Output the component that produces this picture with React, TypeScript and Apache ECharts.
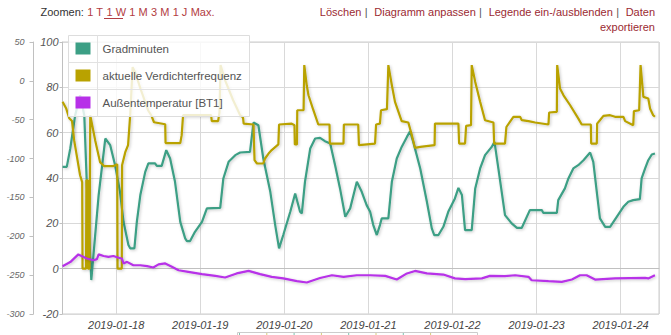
import React, { useEffect, useRef } from "react";
import * as echarts from "echarts";

// Series names and colours
const seriesNames = ["Gradminuten", "aktuelle Verdichterfrequenz", "Außentemperatur [BT1]"];
const seriesColors = ["#3c9f85", "#b9a200", "#b730e8"];

// Time axis range (hours after 2019-01-17 00:00)
const xStartHour = 8.68;
const xEndHour = 178.96;

// Y axis tick settings
const innerAxis = { min: -20, max: 100, interval: 20 };
const outerAxis = { min: -300, max: 50, interval: 50 };

// [hours after 2019-01-17 00:00, value]
const gradminuten: [number, number][] = [
  [8.7, -110.7], [9.9, -110.7], [10.9, -87.0], [12.3, -44.2], [13.7, -18.5], [14.9, -44.2], [15.6, -129.9], [16.9, -256.3],
  [19.0, -147.0], [20.9, -74.2], [22.3, -82.8], [23.7, -108.5], [25.1, -142.8], [26.1, -181.4], [27.5, -211.3], [28.0, -215.5],
  [29.2, -215.5], [29.9, -181.4], [30.9, -147.0], [32.3, -117.1], [33.2, -106.3], [35.1, -106.3], [35.6, -109.4], [37.0, -109.4],
  [38.3, -89.2], [39.4, -99.9], [40.8, -129.9], [42.3, -181.4], [43.7, -202.7], [44.2, -206.2], [45.1, -206.2], [46.5, -194.2],
  [48.5, -181.4], [49.9, -164.1], [53.7, -163.4], [54.6, -125.6], [56.1, -104.2], [58.0, -95.6], [59.4, -92.2], [62.2, -91.4],
  [63.2, -53.6], [64.6, -57.1], [66.0, -99.9], [68.0, -142.8], [69.4, -185.6], [70.5, -215.5], [71.7, -198.4], [73.7, -168.5],
  [75.1, -144.9], [76.5, -168.5], [77.0, -170.6], [77.9, -129.9], [79.4, -87.0], [80.8, -74.2], [82.2, -73.4], [83.6, -77.6],
  [85.1, -80.6], [86.5, -108.5], [87.9, -138.4], [89.4, -174.9], [90.8, -164.1], [92.7, -129.9], [94.1, -142.8], [95.5, -159.9],
  [96.5, -168.5], [97.4, -185.6], [98.4, -198.4], [99.3, -185.6], [99.8, -177.0], [101.7, -177.0], [102.7, -129.9], [104.1, -99.9],
  [105.5, -85.0], [107.0, -72.1], [107.9, -64.8], [108.8, -78.5], [110.8, -112.7], [112.7, -155.6], [114.1, -189.8], [114.8, -198.4],
  [116.0, -198.4], [117.4, -187.8], [118.8, -168.5], [120.7, -151.3], [121.7, -137.7], [122.7, -147.0], [123.6, -192.0], [125.5, -192.0],
  [126.5, -138.4], [127.9, -112.7], [129.3, -95.6], [131.2, -85.0], [132.0, -78.5], [133.1, -112.7], [135.0, -172.7], [136.9, -183.4],
  [138.4, -189.1], [139.8, -189.1], [142.1, -166.3], [145.5, -166.3], [145.9, -169.8], [149.8, -169.8], [150.2, -153.5], [152.1, -138.4],
  [153.1, -125.6], [154.5, -112.7], [155.9, -108.5], [157.4, -102.1], [159.3, -92.2], [160.2, -104.2], [161.2, -142.8], [162.1, -177.0],
  [163.6, -187.8], [165.0, -187.8], [166.9, -174.9], [168.8, -162.1], [170.2, -155.6], [171.6, -153.5], [173.5, -152.2], [174.0, -125.6],
  [175.0, -112.7], [175.9, -102.1], [176.9, -94.7], [177.8, -93.4],
];

const verdichterfrequenz: [number, number][] = [
  [8.7, 73.6], [9.7, 70.8], [10.6, 66.4], [11.4, 65.1], [12.0, 56.7], [13.7, 41.2], [14.3, 38.2], [14.4, 0], [15.4, 0], [15.5, 39],
  [15.9, 39], [16.0, 0], [16.4, 0], [16.6, 67.7], [18.0, 56.7], [19.4, 47.0], [20.6, 45.2], [23.1, 45.2], [24.3, 46.1], [24.4, 0],
  [25.6, 0], [25.7, 45.7], [26.6, 51.4], [27.4, 54.5], [28.0, 67.7], [28.7, 88.9], [29.4, 86.7], [30.9, 79.6], [33.1, 69.9], [34.0, 67.7],
  [34.8, 64.6], [38.0, 63.7], [38.1, 55.4], [42.3, 55.4], [42.7, 58.9], [43.1, 67.7], [51.1, 67.7], [51.3, 65.1], [53.1, 65.1], [53.5, 69.0],
  [53.8, 89.8], [55.1, 83.1], [57.4, 74.3], [59.4, 67.7], [60.2, 66.8], [60.4, 64.0], [63.2, 63.6], [63.5, 47.9], [64.2, 46.4], [66.0, 46.4],
  [66.5, 48.6], [67.5, 50.8], [68.4, 52.3], [70.3, 54.8], [70.5, 63.6], [74.1, 64.0], [74.9, 63.3], [75.0, 54.8], [75.6, 54.8], [75.7, 69.9],
  [77.5, 69.9], [77.7, 89.8], [78.4, 80.9], [78.9, 76.5], [80.3, 69.9], [81.7, 63.6], [84.9, 63.6], [85.0, 55.2], [88.9, 55.2], [89.0, 63.6],
  [93.1, 63.6], [93.3, 54.5], [97.9, 55.2], [98.2, 63.6], [99.3, 64.0], [99.6, 69.9], [101.3, 70.4], [101.7, 89.8], [102.7, 80.9], [103.6, 73.6],
  [105.5, 65.1], [107.4, 64.5], [108.4, 58.9], [109.3, 53.3], [110.8, 53.7], [114.9, 54.5], [115.0, 64.0], [121.7, 64.0], [121.9, 55.2], [123.6, 55.2],
  [123.9, 63.0], [125.3, 63.3], [125.5, 89.8], [126.5, 82.4], [127.9, 73.6], [129.3, 65.5], [131.7, 64.5], [131.9, 55.2], [135.0, 55.2], [135.4, 62.5],
  [136.4, 64.8], [137.4, 67.0], [139.3, 67.0], [139.8, 65.5], [141.7, 65.1], [143.6, 64.5], [147.4, 63.6], [147.6, 68.9], [149.8, 69.2], [149.9, 89.8],
  [150.7, 79.5], [151.7, 76.5], [153.6, 72.1], [155.9, 66.3], [156.9, 63.6], [159.5, 63.6], [159.6, 55.2], [161.2, 55.2], [161.3, 64.0], [162.1, 65.5],
  [163.1, 67.4], [165.0, 67.7], [166.4, 67.0], [168.8, 67.0], [169.3, 65.1], [171.6, 63.3], [171.8, 69.5], [173.3, 69.9], [173.7, 89.8], [174.5, 75.8],
  [175.9, 75.1], [176.4, 70.7], [177.3, 67.7], [177.8, 67.0],
];

const aussentemperatur: [number, number][] = [
  [8.7, 1.1], [10.9, 2.9], [13.2, 6.3], [15.6, 4.5], [17.5, 3.7], [18.5, 4.2], [19.0, 6.3], [20.4, 5.6], [21.8, 5.2], [23.2, 5.6],
  [24.7, 4.8], [25.6, 4.5], [26.1, 2.3], [27.1, 3.0], [28.9, 1.5], [30.9, 1.5], [32.8, 1.1], [34.6, 0.5], [36.1, 1.9], [38.0, 2.3],
  [39.9, 0.8], [41.8, -0.7], [44.6, -1.4], [48.5, -2.4], [52.3, -3.2], [55.1, -3.9], [58.4, -2.1], [61.8, -1.0], [65.1, -2.4], [68.4, -3.6],
  [71.7, -4.3], [75.6, -5.5], [78.4, -6.1], [82.2, -4.1], [85.6, -2.9], [88.9, -3.6], [92.7, -2.9], [96.5, -2.9], [100.8, -3.2], [104.1, -4.8],
  [107.0, -2.1], [109.3, -1.0], [112.7, -2.1], [117.4, -2.6], [120.7, -4.3], [123.6, -4.6], [128.4, -4.3], [130.7, -3.2], [135.0, -3.3], [137.9, -2.9],
  [141.7, -3.6], [142.6, -5.1], [147.4, -5.5], [151.2, -5.8], [154.1, -4.8], [156.4, -2.9], [158.3, -2.9], [160.7, -4.8], [166.4, -4.3], [175.0, -4.1],
  [175.9, -4.3], [177.8, -2.9],
];

const zoomLinks = ["1 T", "1 W", "1 M", "3 M", "1 J", "Max."];
const menuLinks = ["Löschen", "Diagramm anpassen", "Legende ein-/ausblenden", "Daten"];

const FONT = "'Liberation Sans', Arial, sans-serif";

export default function App() {
  const ref = useRef<HTMLDivElement>(null);
  useEffect(() => {
    const chart = echarts.init(ref.current!, undefined, { renderer: "svg" });
    const base = new Date(2019, 0, 17).getTime();
    const toT = (h: number) => base + h * 3600000;
    const conv = (arr: [number, number][]) => arr.map(([h, v]) => [toT(h), v]);

    const shadow = { shadowColor: "rgba(0,0,0,0.22)", shadowBlur: 3, shadowOffsetX: 1, shadowOffsetY: 1 };

    const zoomText =
      "{d|Zoomen:} " + zoomLinks.map((z) => `{a|${z}}`).join(" ");
    const menuText = menuLinks.map((m) => `{a|${m}}`).join(" {s||}  ");

    const navTicks = Array.from({ length: 8 }, (_, i) => ({
      type: "line",
      z: 20,
      shape: { x1: 239.5 + i * 27.3, y1: 333, x2: 239.5 + i * 27.3, y2: 338 },
      style: { stroke: i % 2 === 0 ? "#7fc3b0" : "#d8cc7a", lineWidth: 1 },
      silent: true,
    }));

    chart.setOption({
      animation: false,
      textStyle: { fontFamily: FONT },
      grid: { left: 62.5, right: 12, top: 42, bottom: 21, show: true, borderColor: "#cccccc", borderWidth: 1 },
      legend: {
        orient: "vertical",
        left: 75.5,
        top: 41.5,
        padding: 0,
        itemWidth: 15,
        itemHeight: 12,
        itemGap: 13,
        icon: "rect",
        selectedMode: false,
        z: 12,
        textStyle: { fontSize: 11.5, color: "#555", fontFamily: FONT, lineHeight: 14, padding: [0, 0, 0, 7] },
        data: seriesNames,
      },
      xAxis: {
        type: "time",
        min: toT(xStartHour),
        max: toT(xEndHour),
        minInterval: 86400000,
        maxInterval: 86400000,
        axisLine: { show: true, lineStyle: { color: "#c0c0c0" } },
        axisTick: { show: false },
        splitLine: { show: true, lineStyle: { color: "#d9d9d9" } },
        axisLabel: {
          formatter: "{yyyy}-{MM}-{dd}",
          fontStyle: "italic",
          fontSize: 11,
          color: "#444",
          margin: 5,
          fontFamily: FONT,
        },
      },
      yAxis: [
        {
          type: "value",
          position: "left",
          min: innerAxis.min,
          max: innerAxis.max,
          interval: innerAxis.interval,
          axisLine: { show: true, lineStyle: { color: "#c0c0c0" } },
          axisTick: { show: true, length: 3, lineStyle: { color: "#c0c0c0" } },
          axisLabel: { fontStyle: "italic", fontSize: 11, color: "#555", margin: 4, fontFamily: FONT },
          splitLine: { show: true, lineStyle: { color: "#d9d9d9" } },
        },
        {
          type: "value",
          position: "left",
          offset: 29,
          min: outerAxis.min,
          max: outerAxis.max,
          interval: outerAxis.interval,
          axisLine: { show: true, lineStyle: { color: "#c0c0c0" } },
          axisTick: { show: true, length: 4, lineStyle: { color: "#c0c0c0" } },
          axisLabel: { fontStyle: "italic", fontSize: 9, color: "#666", margin: 9, fontFamily: FONT },
          splitLine: { show: false },
        },
      ],
      series: [
        {
          name: seriesNames[0],
          type: "line",
          yAxisIndex: 1,
          data: conv(gradminuten),
          showSymbol: false,
          color: seriesColors[0],
          lineStyle: { width: 2.2, color: seriesColors[0], ...shadow },
          z: 2,
        },
        {
          name: seriesNames[1],
          type: "line",
          yAxisIndex: 0,
          data: conv(verdichterfrequenz),
          showSymbol: false,
          color: seriesColors[1],
          lineStyle: { width: 2.2, color: seriesColors[1], ...shadow },
          z: 3,
        },
        {
          name: seriesNames[2],
          type: "line",
          yAxisIndex: 0,
          data: conv(aussentemperatur),
          showSymbol: false,
          color: seriesColors[2],
          lineStyle: { width: 2.2, color: seriesColors[2], ...shadow },
          z: 4,
        },
      ],
      graphic: [
        {
          type: "rect",
          z: 10,
          shape: { x: 68.5, y: 35.5, width: 181, height: 81 },
          style: { fill: "rgba(255,255,255,0.82)", stroke: "#dddddd", lineWidth: 1 },
          silent: true,
        },
        { type: "line", z: 11, shape: { x1: 68.5, y1: 62.5, x2: 249.5, y2: 62.5 }, style: { stroke: "#e2e2e2", lineWidth: 1 }, silent: true },
        { type: "line", z: 11, shape: { x1: 68.5, y1: 89.5, x2: 249.5, y2: 89.5 }, style: { stroke: "#e2e2e2", lineWidth: 1 }, silent: true },
        { type: "line", z: 11, shape: { x1: 97.5, y1: 35.5, x2: 97.5, y2: 116.5 }, style: { stroke: "#e2e2e2", lineWidth: 1 }, silent: true },
        {
          type: "text",
          z: 20,
          x: 40.5,
          y: 12,
          style: {
            text: zoomText,
            textVerticalAlign: "middle",
            rich: {
              d: { fontSize: 11, fontFamily: FONT, fill: "#333" },
              a: { fontSize: 11, fontFamily: FONT, fill: "#b23c42" },
            },
          },
        },
        { type: "line", z: 20, shape: { x1: 104, y1: 18.5, x2: 123, y2: 18.5 }, style: { stroke: "#b23c42", lineWidth: 1 } },
        {
          type: "text",
          z: 20,
          x: 655,
          y: 12,
          style: {
            text: menuText,
            align: "right",
            textVerticalAlign: "middle",
            rich: {
              a: { fontSize: 11, fontFamily: FONT, fill: "#9b2a32" },
              s: { fontSize: 11, fontFamily: FONT, fill: "#555" },
            },
          },
        },
        {
          type: "text",
          z: 20,
          x: 655,
          y: 27,
          style: { text: "exportieren", align: "right", textVerticalAlign: "middle", fontSize: 11, fontFamily: FONT, fill: "#9b2a32" },
        },
        {
          type: "rect",
          z: 19,
          shape: { x: 237.5, y: 332.5, width: 240, height: 10 },
          style: { fill: "#fff", stroke: "#cccccc", lineWidth: 1 },
          silent: true,
        },
        ...navTicks,
      ],
    });
    return () => chart.dispose();
  }, []);
  return (
    <div
      ref={ref}
      style={{ position: "fixed", left: 0, top: 0, width: 671, height: 335, background: "#fff" }}
    />
  );
}
